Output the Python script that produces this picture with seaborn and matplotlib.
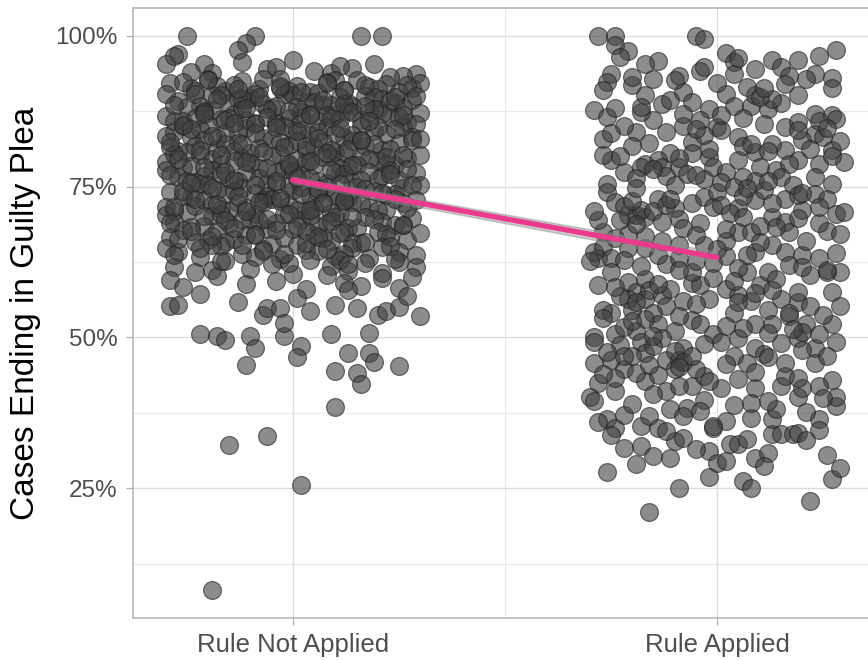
import matplotlib
matplotlib.use("Agg")
import matplotlib.pyplot as plt
import numpy as np
import pandas as pd
import seaborn as sns
from matplotlib.ticker import FixedLocator, PercentFormatter

GROUPS = ["Rule Not Applied", "Rule Applied"]

# share of cases ending in a guilty plea (%), one value per point
not_applied_pct = [
    100.0, 100.0, 100.0, 100.0, 98.8, 97.7, 97.0, 95.3, 95.3, 93.9,
    95.6, 96.0, 94.2, 93.8, 94.7, 95.4, 93.7, 93.4, 93.1, 94.5,
    94.8, 96.6, 95.0, 94.0, 92.1, 91.4, 92.8, 90.9, 92.5, 91.2,
    92.9, 91.6, 90.7, 92.3, 91.0, 92.7, 91.5, 92.0, 90.6, 91.3,
    92.4, 91.9, 90.8, 92.6, 91.1, 92.2, 91.7, 90.5, 92.9, 91.8,
    89.2, 88.4, 90.1, 88.9, 89.7, 88.1, 90.3, 89.0, 88.6, 89.9,
    88.3, 90.0, 89.5, 88.8, 89.3, 90.4, 88.2, 89.6, 88.7, 90.2,
    89.1, 88.5, 89.8, 88.0, 90.1, 89.4, 88.9, 89.2, 88.4, 90.0,
    86.7, 85.9, 87.6, 86.2, 87.1, 85.6, 87.8, 86.4, 87.3, 85.8,
    86.9, 87.5, 86.0, 87.9, 86.5, 85.7, 87.2, 86.3, 87.7, 86.1,
    85.5, 87.0, 86.8, 87.4, 86.6, 85.9, 87.9, 86.2, 87.1, 86.4,
    84.1, 83.3, 85.2, 83.8, 84.7, 83.0, 85.4, 84.4, 83.6, 84.9,
    83.2, 85.0, 84.2, 83.7, 84.8, 85.3, 83.4, 84.5, 83.9, 85.1,
    84.0, 83.5, 84.6, 83.1, 85.4, 84.3, 83.8, 84.9, 83.3, 85.0,
    81.6, 80.8, 82.7, 81.2, 82.2, 80.5, 82.9, 81.9, 81.0, 82.4,
    80.7, 82.5, 81.7, 81.1, 82.3, 82.8, 80.9, 82.0, 81.4, 82.6,
    81.5, 80.6, 82.1, 81.3, 82.9, 81.8, 80.9, 82.4, 81.0, 82.7,
    79.1, 78.3, 80.2, 78.8, 79.7, 78.0, 80.4, 79.4, 78.5, 79.9,
    78.2, 80.0, 79.2, 78.6, 79.8, 80.3, 78.4, 79.5, 78.9, 80.1,
    79.0, 78.1, 79.6, 78.7, 80.4, 79.3, 78.4, 79.9, 78.6, 80.2,
    76.6, 75.8, 77.7, 76.3, 77.2, 75.5, 77.9, 76.9, 76.0, 77.4,
    75.7, 77.5, 76.7, 76.1, 77.3, 77.8, 75.9, 77.0, 76.4, 77.6,
    76.5, 75.6, 77.1, 76.2, 77.9, 76.8, 75.9, 77.4, 76.1, 77.7,
    74.1, 73.3, 75.2, 73.8, 74.7, 73.0, 75.4, 74.4, 73.5, 74.9,
    73.2, 75.0, 74.2, 73.6, 74.8, 75.3, 73.4, 74.5, 73.9, 75.1,
    74.0, 73.1, 74.6, 73.7, 75.4, 74.3, 73.4, 74.9, 73.6, 75.2,
    71.6, 70.8, 72.7, 71.3, 72.2, 70.5, 72.9, 71.9, 71.0, 72.4,
    70.7, 72.5, 71.7, 71.1, 72.3, 72.8, 70.9, 72.0, 71.4, 72.6,
    71.5, 70.6, 72.1, 71.2, 72.9, 71.8, 70.9, 72.4, 71.1, 72.7,
    69.1, 68.3, 70.2, 68.8, 69.7, 68.0, 70.4, 69.4, 68.5, 69.9,
    68.2, 70.0, 69.2, 68.6, 69.8, 70.3, 68.4, 69.5, 68.9, 70.1,
    69.0, 68.1, 69.6, 68.7, 70.4, 69.3, 66.6, 65.8, 67.7, 66.3,
    67.2, 65.5, 67.9, 66.9, 66.0, 67.4, 65.7, 67.5, 66.7, 66.1,
    67.3, 67.8, 65.9, 67.0, 66.4, 67.6, 66.5, 65.6, 67.1, 66.2,
    64.1, 63.3, 65.2, 63.8, 64.7, 63.0, 65.4, 64.4, 63.5, 64.9,
    63.2, 65.0, 64.2, 63.6, 64.8, 65.3, 63.4, 64.5, 63.9, 65.1,
    61.6, 60.8, 62.7, 61.3, 62.2, 60.5, 62.9, 61.9, 61.0, 62.4,
    60.7, 62.5, 61.7, 61.1, 62.3, 62.8, 59.6, 58.4, 60.2, 58.9,
    59.3, 58.1, 60.4, 59.0, 58.6, 59.9, 58.2, 60.0, 55.2, 55.4,
    55.8, 53.7, 54.9, 54.9, 54.3, 55.4, 54.9, 53.7, 54.3, 55.0,
    53.5, 57.2, 56.6, 57.8, 56.9, 50.6, 50.3, 49.6, 50.3, 48.3,
    50.3, 52.4, 48.5, 50.6, 50.7, 47.5, 46.8, 47.5, 45.5, 45.2,
    44.5, 44.1, 45.9, 42.2, 38.5, 33.6, 32.2, 25.5, 8.1, 92.6,
    87.4, 90.3, 88.7, 91.9, 86.3, 89.6, 92.2, 87.9, 90.8, 86.8,
    91.4, 88.2, 89.9,
    88.6, 85.2, 82.4, 79.6, 76.9, 74.3, 71.6, 68.9, 66.3, 63.7,
    90.4, 87.1, 84.5, 81.1, 78.3, 75.6, 72.9, 70.2, 67.6, 64.9,
    89.5, 86.0, 83.4, 80.2, 77.5, 74.8, 72.1, 69.5, 66.8, 62.6,
    91.2, 88.0, 85.6, 82.0, 79.0, 76.1, 73.5, 70.9, 68.1, 65.4,
    89.9, 86.6, 83.9, 80.8, 78.0, 75.2, 72.4, 69.7, 67.0, 64.3,
    91.6, 87.6, 84.8, 81.5, 78.7, 75.9, 73.1, 70.4, 67.8, 63.9,
    90.7, 86.9, 84.2, 81.8, 79.3, 76.5, 73.8, 71.1, 68.5, 65.7,
    89.3, 86.4, 83.1, 80.6, 77.8, 74.6, 72.2, 69.3, 66.6, 64.6,
    91.0, 87.3, 84.7, 81.3, 78.5, 75.4, 72.6, 69.9, 67.3, 62.1,
    88.3, 85.8, 82.8, 79.9, 77.1, 74.0, 71.4, 68.6, 65.9, 63.0,
]
# horizontal jitter of each point around its category (category units)
not_applied_jitter = [
    -0.25, -0.09, 0.16, 0.21, -0.11, -0.13, -0.27, -0.30, -0.21, -0.19,
    -0.12, 0.00, 0.05, 0.09, 0.14, 0.19, 0.29, 0.26, 0.23, -0.06,
    -0.04, -0.28, 0.11, -0.24, -0.29, -0.24, -0.20, -0.16, -0.12, -0.08,
    -0.03, 0.01, 0.04, 0.08, 0.12, 0.15, 0.18, 0.22, 0.25, 0.28,
    -0.26, -0.14, -0.01, 0.10, 0.20, 0.30, -0.18, 0.06, -0.07, 0.27,
    -0.27, -0.22, -0.19, -0.15, -0.10, -0.05, -0.02, 0.03, 0.07, 0.11,
    0.14, 0.17, 0.21, 0.24, 0.28, -0.30, -0.25, -0.13, -0.07, 0.00,
    0.05, 0.09, 0.19, 0.26, -0.17, -0.11, 0.13, 0.23, -0.04, 0.29,
    -0.30, -0.26, -0.21, -0.17, -0.14, -0.09, -0.06, -0.01, 0.02, 0.06,
    0.10, 0.13, 0.16, 0.20, 0.23, 0.27, 0.30, -0.23, -0.19, -0.11,
    -0.04, 0.04, 0.08, 0.18, 0.25, -0.28, -0.12, 0.11, 0.21, -0.15,
    -0.28, -0.24, -0.20, -0.16, -0.11, -0.07, -0.04, 0.00, 0.04, 0.08,
    0.12, 0.16, 0.19, 0.22, 0.26, 0.29, -0.30, -0.22, -0.13, -0.02,
    0.06, 0.14, 0.24, -0.18, -0.09, 0.02, 0.10, 0.20, 0.28, -0.26,
    -0.29, -0.25, -0.21, -0.18, -0.13, -0.10, -0.05, -0.01, 0.03, 0.07,
    0.10, 0.14, 0.17, 0.21, 0.25, 0.28, -0.27, -0.16, -0.08, 0.01,
    0.05, 0.12, 0.19, 0.23, 0.30, -0.23, -0.14, -0.03, 0.09, 0.16,
    -0.30, -0.26, -0.22, -0.17, -0.12, -0.08, -0.03, 0.01, 0.05, 0.09,
    0.13, 0.16, 0.20, 0.24, 0.27, 0.30, -0.24, -0.19, -0.10, -0.05,
    0.03, 0.11, 0.18, 0.22, -0.28, -0.14, -0.01, 0.07, 0.15, 0.26,
    -0.27, -0.23, -0.19, -0.15, -0.11, -0.06, -0.02, 0.02, 0.06, 0.10,
    0.14, 0.18, 0.21, 0.25, 0.29, -0.30, -0.25, -0.17, -0.08, 0.00,
    0.04, 0.08, 0.12, 0.20, 0.27, -0.21, -0.13, -0.04, 0.16, 0.23,
    -0.29, -0.24, -0.20, -0.16, -0.12, -0.07, -0.04, 0.00, 0.04, 0.08,
    0.11, 0.15, 0.19, 0.22, 0.26, 0.30, -0.26, -0.18, -0.09, -0.01,
    0.06, 0.13, 0.17, 0.24, -0.22, -0.14, -0.06, 0.02, 0.10, 0.28,
    -0.30, -0.25, -0.21, -0.17, -0.13, -0.09, -0.05, -0.01, 0.03, 0.07,
    0.11, 0.14, 0.18, 0.22, 0.26, 0.29, -0.28, -0.19, -0.11, -0.03,
    0.05, 0.09, 0.16, 0.20, 0.24, -0.23, -0.15, -0.07, 0.01, 0.12,
    -0.28, -0.24, -0.19, -0.15, -0.10, -0.06, -0.02, 0.02, 0.06, 0.10,
    0.13, 0.17, 0.21, 0.24, 0.28, -0.30, -0.21, -0.12, -0.04, 0.04,
    0.08, 0.15, 0.19, 0.26, -0.17, -0.08, -0.29, -0.23, -0.18, -0.14,
    -0.09, -0.05, 0.00, 0.05, 0.09, 0.12, 0.16, 0.20, 0.23, 0.27,
    0.30, -0.26, -0.16, -0.11, -0.02, 0.03, 0.07, 0.14, 0.22, -0.20,
    -0.27, -0.22, -0.17, -0.12, -0.07, -0.03, 0.01, 0.06, 0.10, 0.14,
    0.18, 0.21, 0.25, 0.29, -0.30, -0.19, -0.09, 0.03, 0.12, 0.23,
    -0.28, -0.23, -0.16, -0.10, -0.05, 0.00, 0.04, 0.09, 0.13, 0.17,
    0.21, 0.25, 0.29, -0.19, -0.01, 0.11, -0.29, -0.26, -0.18, -0.11,
    -0.04, 0.03, 0.08, 0.12, 0.16, 0.21, 0.25, 0.28, -0.29, -0.27,
    -0.13, -0.07, -0.06, -0.03, 0.04, 0.10, 0.15, 0.20, 0.22, 0.25,
    0.30, -0.22, 0.01, 0.13, 0.27, -0.22, -0.18, -0.16, -0.10, -0.09,
    -0.02, -0.02, 0.02, 0.09, 0.18, 0.18, 0.01, 0.13, -0.11, 0.25,
    0.10, 0.15, 0.19, 0.16, 0.10, -0.06, -0.15, 0.02, -0.19, -0.20,
    -0.21, -0.09, 0.12, 0.17, 0.02, -0.12, 0.08, 0.19, -0.23, 0.26,
    -0.03, 0.01, 0.24,
    -0.28, -0.26, -0.29, -0.27, -0.29, -0.26, -0.28, -0.29, -0.27, -0.28,
    -0.23, -0.21, -0.24, -0.22, -0.21, -0.24, -0.23, -0.21, -0.24, -0.22,
    -0.18, -0.16, -0.19, -0.17, -0.16, -0.19, -0.18, -0.16, -0.19, -0.17,
    -0.13, -0.11, -0.14, -0.12, -0.11, -0.14, -0.13, -0.11, -0.14, -0.12,
    -0.08, -0.06, -0.09, -0.07, -0.06, -0.09, -0.08, -0.06, -0.09, -0.07,
    -0.03, -0.01, -0.04, -0.02, -0.01, -0.04, -0.03, -0.01, -0.04, -0.02,
    0.02, 0.04, 0.01, 0.03, 0.04, 0.01, 0.02, 0.04, 0.01, 0.03,
    0.07, 0.09, 0.06, 0.08, 0.09, 0.06, 0.07, 0.09, 0.06, 0.08,
    0.12, 0.14, 0.11, 0.13, 0.14, 0.11, 0.12, 0.14, 0.11, 0.13,
    0.17, 0.18, 0.16, 0.22, 0.23, 0.21, 0.27, 0.26, 0.17, 0.24,
]

applied_pct = [
    100.0, 100.0, 100.0, 99.5, 97.6, 96.7, 93.7, 93.0, 98.4, 97.5,
    96.5, 93.7, 92.3, 87.7, 86.5, 84.0, 81.8, 79.4, 77.4, 95.8,
    95.3, 92.8, 88.7, 89.3, 93.4, 90.6, 89.0, 87.9, 94.2, 94.8,
    97.2, 95.6, 93.7, 90.4, 88.4, 88.4, 90.1, 94.5, 95.9, 94.8,
    93.4, 92.0, 90.1, 87.9, 85.4, 84.9, 85.7, 87.1, 86.8, 86.2,
    83.7, 83.2, 81.0, 79.1, 78.8, 79.4, 81.0, 82.1, 80.7, 79.4,
    83.2, 84.9, 84.3, 79.9, 78.2, 82.4, 80.5, 85.1, 84.0, 80.5,
    79.4, 78.8, 78.2, 78.2, 78.2, 77.4, 76.6, 78.2, 77.7, 78.8,
    76.6, 76.6, 75.5, 75.5, 74.1, 72.5, 70.3, 70.3, 70.0, 73.0,
    71.4, 69.7, 72.2, 73.3, 71.6, 74.1, 71.4, 72.7, 74.4, 70.0,
    69.1, 73.0, 71.1, 73.8, 70.5, 70.8, 73.0, 63.1, 64.2, 65.0,
    63.1, 58.7, 60.9, 59.2, 57.5, 59.7, 56.4, 56.4, 57.0, 58.1,
    55.2, 54.1, 54.6, 54.1, 54.6, 50.0, 50.5, 51.1, 52.2, 51.1,
    52.9, 52.2, 50.5, 59.0, 58.7, 56.4, 60.9, 62.1, 64.8, 64.8,
    63.7, 63.1, 62.6, 63.5, 58.1, 57.0, 54.1, 60.9, 58.7, 60.9,
    59.7, 56.4, 54.6, 52.2, 52.2, 55.8, 55.2, 57.5, 60.4, 60.9,
    60.9, 57.5, 55.2, 52.2, 52.2, 64.0, 63.1, 63.7, 64.2, 65.3,
    64.2, 67.5, 63.7, 66.0, 68.0, 67.4, 67.5, 66.0, 67.7, 67.1,
    62.6, 67.1, 66.8, 66.0, 65.3, 65.3, 67.5, 49.3, 48.8, 49.3,
    49.9, 48.2, 49.3, 49.9, 48.2, 49.1, 49.9, 48.2, 49.3, 45.8,
    46.3, 44.7, 42.5, 41.1, 40.2, 39.4, 36.4, 35.0, 37.2, 35.3,
    37.0, 35.0, 31.7, 32.0, 29.0, 30.3, 27.7, 21.1, 25.0, 32.8,
    38.3, 41.1, 42.7, 43.8, 41.9, 43.6, 39.7, 41.6, 35.0, 36.1,
    31.2, 29.2, 29.5, 26.9, 32.3, 32.3, 33.1, 30.1, 26.2, 25.0,
    36.7, 41.6, 34.0, 34.0, 34.0, 36.4, 38.1, 39.4, 41.9, 40.2,
    43.6, 41.6, 45.8, 45.8, 46.9, 43.0, 41.9, 38.6, 40.2, 36.4,
    34.7, 30.5, 26.6, 22.9, 46.9, 45.8, 45.6, 44.7, 42.7, 46.3,
    46.3, 44.7, 47.4, 46.9, 34.2, 35.3,
    76.8, 77.1, 76.2, 75.8, 77.9, 76.4, 75.2, 75.0, 76.0, 75.3,
    71.8, 71.2, 72.6, 70.9, 71.9, 69.4, 68.8, 69.0, 68.5, 69.8,
    72.0, 70.6, 73.5, 72.3, 68.9, 69.5, 71.0, 68.2, 73.6, 74.7,
    57.8, 56.9, 55.9, 58.9, 56.0, 53.5, 53.0, 51.8, 53.3, 55.5,
    47.8, 46.0, 45.1, 47.0, 48.6, 47.6, 44.1, 43.3, 45.4, 48.9,
    61.8, 61.2, 62.3, 61.5, 62.0, 61.6, 59.3, 57.9, 56.1, 53.6,
    51.5, 50.8, 51.9, 53.8, 50.6, 47.3, 47.9, 44.2, 43.1, 42.0,
    39.0, 38.2, 38.8, 37.6, 39.9, 36.0, 33.8, 33.4, 30.8, 28.3,
    88.9, 86.3, 85.0, 82.9, 91.4, 91.8, 82.7, 81.3, 80.1, 86.1,
    91.0, 90.2, 92.6, 91.5, 89.6, 92.9, 88.0, 87.0, 86.9, 85.9,
    83.9, 82.2, 83.5, 81.7, 84.4, 80.3, 79.7, 80.9, 82.6, 96.3,
    93.1, 89.8, 86.0, 82.0, 77.0, 73.9, 69.9, 66.4, 62.9, 58.4,
    55.9, 52.8, 50.9, 47.0, 43.9, 40.6, 37.8, 34.5, 31.5, 28.7,
    91.3, 87.4, 84.7, 80.0, 76.0, 72.9, 69.2, 65.8, 61.1, 57.4,
    54.0, 50.3, 46.7, 43.2, 39.2, 36.9, 33.0, 30.0, 66.9, 64.6,
    96.0, 92.1, 88.2, 84.6, 81.2, 74.8, 71.7, 68.3, 59.8, 51.4,
]
applied_jitter = [
    -0.28, -0.24, -0.05, -0.03, 0.28, 0.24, 0.23, 0.27, -0.24, -0.21,
    -0.23, -0.25, -0.26, -0.29, -0.26, -0.19, -0.20, -0.25, -0.22, -0.14,
    -0.17, -0.15, -0.13, -0.11, -0.09, -0.08, -0.06, -0.02, -0.04, -0.03,
    0.02, 0.04, 0.04, 0.02, 0.04, 0.08, 0.09, 0.09, 0.13, 0.15,
    0.17, 0.16, 0.19, 0.12, 0.11, 0.16, 0.19, 0.23, 0.27, 0.28,
    0.23, 0.25, 0.27, 0.30, 0.24, 0.19, 0.16, 0.13, 0.09, 0.05,
    0.05, 0.00, 0.01, -0.02, -0.01, -0.06, -0.06, -0.08, -0.12, -0.11,
    -0.14, -0.17, -0.18, -0.13, -0.09, 0.02, 0.06, 0.10, 0.14, 0.17,
    0.15, 0.23, 0.27, -0.26, -0.26, -0.24, -0.21, -0.19, -0.17, -0.14,
    -0.10, -0.09, -0.06, -0.03, -0.01, 0.00, 0.05, 0.09, 0.11, 0.13,
    0.16, 0.16, 0.20, 0.23, 0.28, 0.30, 0.26, -0.28, -0.29, -0.27,
    -0.25, -0.28, -0.25, -0.21, -0.19, -0.17, -0.21, -0.17, -0.13, -0.11,
    -0.12, -0.15, -0.20, -0.25, -0.27, -0.29, -0.24, -0.19, -0.14, -0.10,
    -0.06, -0.04, -0.01, -0.06, -0.04, -0.02, -0.06, -0.12, -0.17, -0.21,
    -0.14, -0.09, -0.05, 0.02, 0.02, 0.05, 0.04, 0.07, 0.10, 0.12,
    0.14, 0.15, 0.12, 0.09, 0.13, 0.19, 0.22, 0.19, 0.22, 0.26,
    0.29, 0.27, 0.29, 0.27, 0.21, 0.28, 0.24, 0.20, 0.16, 0.13,
    0.09, 0.05, 0.07, 0.02, 0.02, 0.08, 0.17, 0.21, 0.26, 0.29,
    -0.30, -0.21, -0.17, -0.13, -0.09, -0.03, -0.27, -0.29, -0.23, -0.18,
    -0.13, -0.08, 0.01, 0.05, 0.09, 0.15, 0.19, 0.23, 0.28, -0.29,
    -0.25, -0.22, -0.28, -0.24, -0.30, -0.29, -0.26, -0.24, -0.22, -0.18,
    -0.16, -0.14, -0.22, -0.18, -0.19, -0.15, -0.26, -0.16, -0.09, -0.10,
    -0.07, -0.12, -0.17, -0.14, -0.06, -0.03, -0.03, 0.01, -0.01, 0.02,
    -0.02, 0.00, 0.02, -0.02, 0.03, 0.05, 0.07, 0.09, 0.06, 0.08,
    0.08, 0.09, 0.13, 0.15, 0.18, 0.13, 0.14, 0.12, 0.15, 0.19,
    0.16, 0.20, 0.16, 0.23, 0.26, 0.27, 0.24, 0.28, 0.28, 0.24,
    0.24, 0.26, 0.27, 0.22, 0.04, 0.07, 0.02, -0.05, -0.02, -0.12,
    -0.09, -0.10, -0.17, -0.20, 0.19, -0.01,
    -0.12, -0.07, -0.03, 0.01, -0.15, -0.19, -0.10, 0.04, 0.09, 0.18,
    -0.22, -0.18, -0.20, -0.15, -0.12, -0.23, -0.19, -0.04, 0.10, 0.19,
    0.01, 0.03, 0.06, 0.13, 0.24, -0.28, -0.29, -0.08, 0.19, -0.19,
    -0.16, -0.23, -0.19, -0.14, -0.08, -0.09, -0.17, -0.22, -0.27, -0.05,
    -0.10, -0.08, -0.09, -0.06, -0.15, -0.26, -0.19, -0.24, -0.16, -0.03,
    -0.18, -0.09, -0.01, 0.05, 0.17, 0.20, 0.04, 0.13, 0.08, 0.17,
    0.06, 0.12, 0.02, 0.25, 0.24, 0.11, 0.20, 0.09, 0.05, -0.09,
    -0.20, -0.11, 0.04, 0.21, 0.25, -0.28, -0.25, -0.08, 0.12, 0.29,
    0.15, 0.06, -0.22, -0.27, 0.27, -0.20, 0.20, -0.02, 0.27, -0.15,
    -0.27, -0.17, -0.10, 0.07, 0.13, 0.21, -0.24, -0.08, 0.01, 0.24,
    -0.25, -0.16, -0.03, 0.06, 0.19, -0.27, -0.09, 0.12, 0.29, 0.05,
    -0.20, 0.10, -0.04, 0.08, -0.05, 0.20, 0.06, -0.24, -0.22, -0.24,
    0.05, -0.20, 0.20, -0.22, -0.27, -0.15, -0.04, -0.12, -0.05, 0.11,
    0.11, -0.18, 0.26, -0.23, 0.12, -0.11, -0.13, 0.10, 0.26, 0.09,
    0.17, -0.15, 0.12, 0.19, 0.08, -0.08, 0.21, -0.11, -0.05, 0.00,
    0.19, 0.00, -0.18, -0.05, 0.22, 0.07, 0.24, 0.14, -0.01, 0.18,
]

POINT_COLOR = "#404040"
LINE_COLOR = "#ec3a8d"
FRAME_COLOR = "#b3b3b3"


def build_frame() -> pd.DataFrame:
    parts = []
    for code, (pct, jit) in enumerate([(not_applied_pct, not_applied_jitter),
                                       (applied_pct, applied_jitter)]):
        n = min(len(pct), len(jit))
        parts.append(pd.DataFrame({
            "code": code,
            "x": code + np.asarray(jit[:n], dtype=float),
            "pct": np.asarray(pct[:n], dtype=float),
        }))
    return pd.concat(parts, ignore_index=True)


def main() -> None:
    sns.set_theme(style="whitegrid")
    plt.rcParams["font.family"] = ["Liberation Sans", "DejaVu Sans"]

    df = build_frame()

    fig = plt.figure(figsize=(8.68, 6.6), dpi=100, facecolor="white")
    ax = fig.add_axes([133 / 868, 42 / 660, 744 / 868, 610 / 660])

    sns.scatterplot(data=df, x="x", y="pct", s=165, color=POINT_COLOR, alpha=0.6,
                    edgecolor="#202020", linewidth=0.9, legend=False, ax=ax, zorder=2)
    # narrow confidence band behind the mean line
    sns.lineplot(data=df, x="code", y="pct", errorbar=("se", 1), color="#8c8c8c",
                 linewidth=0, err_kws={"alpha": 0.45, "zorder": 3}, ax=ax)
    sns.lineplot(data=df, x="code", y="pct", errorbar=None, color=LINE_COLOR,
                 linewidth=3.8, ax=ax, zorder=4)

    ax.set_xlim(-0.377, 1.377)
    ax.set_ylim(3.5, 104.6)
    ax.set_xticks([0, 1], GROUPS)
    ax.set_yticks([25, 50, 75, 100])
    ax.yaxis.set_major_formatter(PercentFormatter(100, decimals=0))
    ax.xaxis.set_minor_locator(FixedLocator([0.5]))
    ax.yaxis.set_minor_locator(FixedLocator([12.5, 37.5, 62.5, 87.5]))

    ax.grid(which="major", color="#dcdcdc", linewidth=1.0)
    ax.grid(which="minor", color="#e8e8e8", linewidth=0.8)
    ax.set_axisbelow(True)

    ax.tick_params(which="major", bottom=True, left=True, length=5, width=0.9,
                   color=FRAME_COLOR, labelcolor="#4d4d4d")
    ax.tick_params(axis="x", pad=6, labelsize=18.5)
    ax.tick_params(axis="y", pad=6, labelsize=17.5)
    ax.tick_params(which="minor", length=0)

    ax.set_xlabel("")
    ax.set_ylabel("Cases Ending in Guilty Plea", fontsize=24, color="black", labelpad=10)
    for spine in ax.spines.values():
        spine.set_color(FRAME_COLOR)
        spine.set_linewidth(1.1)

    fig.savefig("out.png", dpi=100, facecolor="white")
    plt.close(fig)


if __name__ == "__main__":
    main()
